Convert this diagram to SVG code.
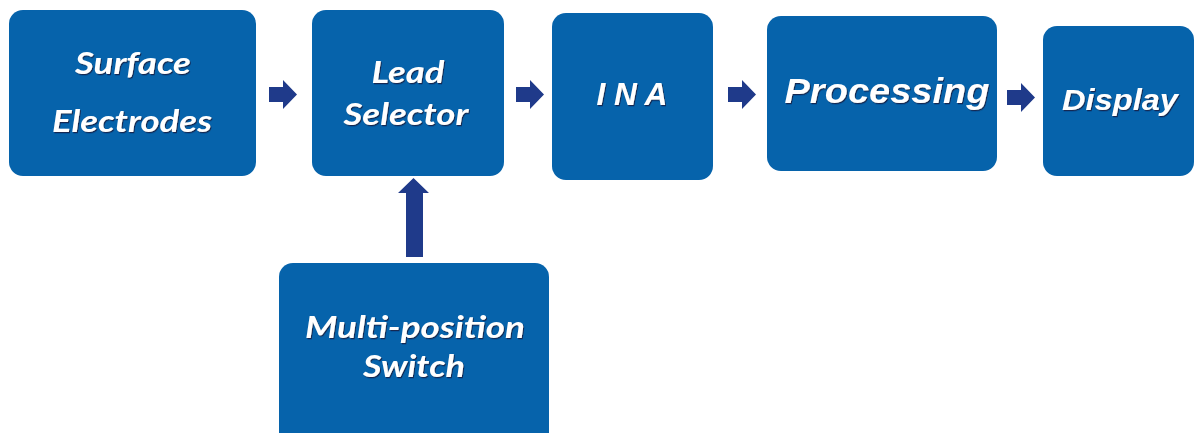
<svg xmlns="http://www.w3.org/2000/svg" width="1194" height="433" viewBox="0 0 1194 433">
  <style>
    .box { fill: #0663ab; }
    .lbl { fill: #ffffff; font-weight: bold; font-style: italic; text-anchor: middle; filter: url(#shadow); }
    .cal { font-family: Lato, "Open Sans", "Liberation Sans", sans-serif; font-size: 30px; }
    .ari { font-family: "Liberation Sans", Arial, sans-serif; }
    .arrow { fill: #1f3a8a; }
  </style>
  <defs>
    <filter id="shadow" x="-10%" y="-30%" width="120%" height="160%">
      <feDropShadow dx="1" dy="1.2" stdDeviation="0.6" flood-color="#1a1a3a" flood-opacity="0.8"/>
    </filter>
    <!-- block arrow pointing right, 28 x 29 -->
    <path id="arrowR" d="M0 7 H14 V0 L28 14.5 L14 29 V22 H0 Z"/>
  </defs>
  <rect width="1194" height="433" fill="#ffffff"/>

  <g id="surface-electrodes">
    <rect class="box" x="9" y="10" width="247" height="166" rx="14"/>
    <text class="lbl cal" x="133" y="74" textLength="116" lengthAdjust="spacingAndGlyphs">Surface</text>
    <text class="lbl cal" x="132" y="132" textLength="160" lengthAdjust="spacingAndGlyphs">Electrodes</text>
  </g>

  <g id="lead-selector">
    <rect class="box" x="312" y="10" width="192" height="166" rx="14"/>
    <text class="lbl cal" x="408" y="83" textLength="73" lengthAdjust="spacingAndGlyphs">Lead</text>
    <text class="lbl cal" x="406" y="125" textLength="125" lengthAdjust="spacingAndGlyphs">Selector</text>
  </g>

  <g id="ina">
    <rect class="box" x="552" y="13" width="161" height="167" rx="14"/>
    <text class="lbl ari" x="632" y="105" font-size="31" textLength="71" lengthAdjust="spacingAndGlyphs">I N A</text>
  </g>

  <g id="processing">
    <rect class="box" x="767" y="16" width="230" height="155" rx="14"/>
    <text class="lbl ari" x="887" y="103" font-size="35" textLength="205" lengthAdjust="spacingAndGlyphs">Processing</text>
  </g>

  <g id="display">
    <rect class="box" x="1043" y="26" width="151" height="150" rx="14"/>
    <text class="lbl ari" x="1120" y="110" font-size="30" textLength="116" lengthAdjust="spacingAndGlyphs">Display</text>
  </g>

  <g id="multi-position-switch">
    <rect class="box" x="279" y="263" width="270" height="185" rx="14"/>
    <text class="lbl cal" x="415" y="338" textLength="220" lengthAdjust="spacingAndGlyphs">Multi-position</text>
    <text class="lbl cal" x="414" y="377" textLength="102" lengthAdjust="spacingAndGlyphs">Switch</text>
  </g>

  <g id="connectors" class="arrow">
    <use href="#arrowR" x="269" y="80"/>
    <use href="#arrowR" x="516" y="80"/>
    <use href="#arrowR" x="728" y="80"/>
    <use href="#arrowR" x="1007" y="83"/>
    <!-- switch up into lead selector -->
    <path d="M406 257 V193 H398 L413.5 178 L429 193 H423 V257 Z"/>
  </g>
</svg>
